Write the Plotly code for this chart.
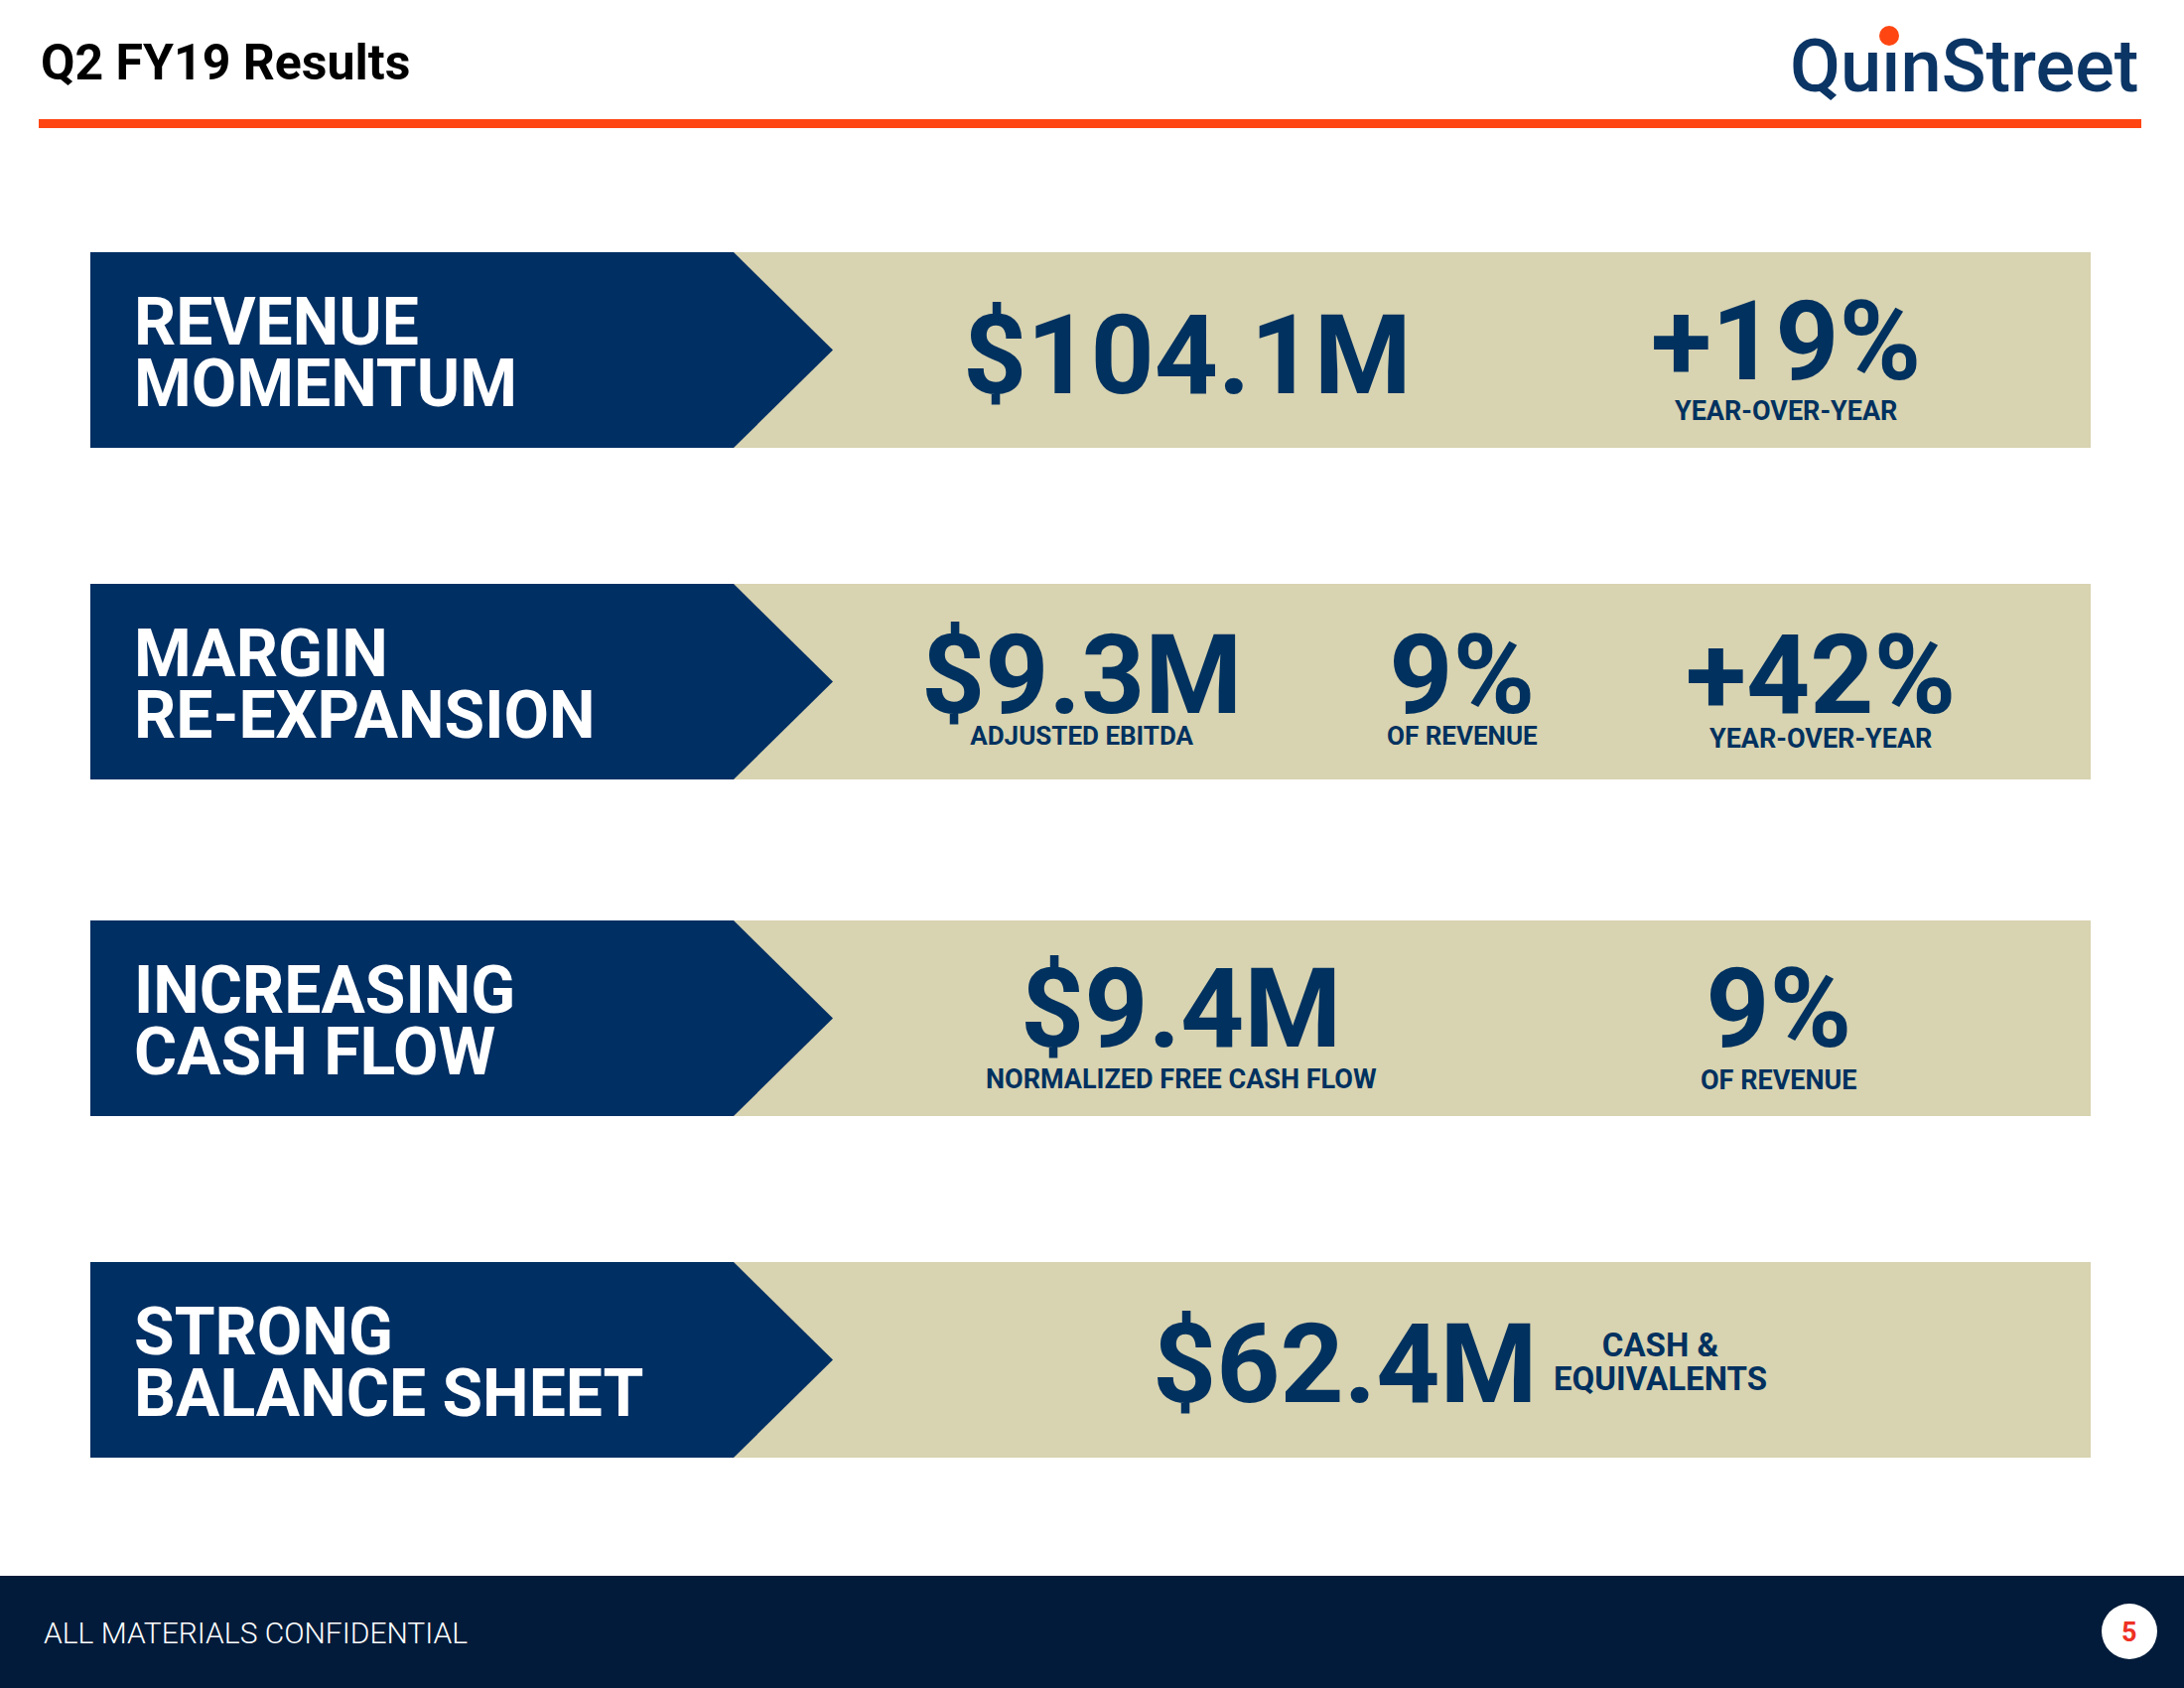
import plotly.graph_objects as go

# ---------------- data (text content of the slide) ----------------
slide_title = "Q2 FY19 Results"
logo_text = "Qu\u0131nStreet"
footer_text = "ALL MATERIALS CONFIDENTIAL"
page_number = "5"

row_titles = [
    ["REVENUE", "MOMENTUM"],
    ["MARGIN", "RE-EXPANSION"],
    ["INCREASING", "CASH FLOW"],
    ["STRONG", "BALANCE SHEET"],
]
revenue_values = ["$104.1M", "+19%"]
revenue_labels = ["", "YEAR-OVER-YEAR"]
margin_values = ["$9.3M", "9%", "+42%"]
margin_labels = ["ADJUSTED EBITDA", "OF REVENUE", "YEAR-OVER-YEAR"]
cashflow_values = ["$9.4M", "9%"]
cashflow_labels = ["NORMALIZED FREE CASH FLOW", "OF REVENUE"]
balance_values = ["$62.4M"]
balance_labels = ["CASH &", "EQUIVALENTS"]

# ---------------- layout / style ----------------
W, H = 2200, 1700
NAVY = "#002F63"
TEXT_NAVY = "#00315F"
BEIGE = "#D8D3B0"
ORANGE = "#FF4612"
FOOTER = "#021B3A"
FONT = "Roboto"
ASC, DESC = 0.927, 0.244   # Roboto ascent / descent (em)

row_tops = [254, 588, 927, 1271]
row_h = 197
block_left, block_right, tip_x, band_right = 91, 739, 839, 2106

VALUE_SIZE = 112
TITLE_SIZE = 66
TITLE_PITCH = 62

# per-row placement of value/label pairs: (x_center, value baseline, label baseline)
row_values = [revenue_values, margin_values, cashflow_values, balance_values]
row_labels = [revenue_labels, margin_labels, cashflow_labels, balance_labels]
value_pos = [
    [(1196, 396, None), (1799, 382, 423)],
    [(1089, 718, 750), (1473, 718, 750), (1834, 718, 753)],
    [(1190, 1053, 1095), (1792, 1053, 1096)],
    [(1355, 1412, None)],
]
label_sizes = [[0, 27], [26, 26, 27], [27, 27], [0]]


def stacked(lines, sizes, baseline1, pitch):
    """Build a multi-line annotation text with per-line sizes; return text, base size and middle y."""
    base = pitch / 1.3
    text = "<br>".join(f"<span style='font-size:{s}px'>{t}</span>" for t, s in zip(lines, sizes))
    n = len(lines)
    top = baseline1 - ASC * sizes[0]
    bottom = baseline1 + pitch * (n - 1) + DESC * max(sizes[-1], base)
    return text, base, (top + bottom) / 2


fig = go.Figure()
shapes = []
annotations = []

# header rule and title
shapes.append(dict(type="rect", x0=39, x1=2157, y0=120, y1=129,
                   fillcolor=ORANGE, line_width=0, layer="below"))
annotations.append(dict(x=39, y=63, text=slide_title, xanchor="left", yanchor="middle",
                        showarrow=False, font=dict(family=FONT, size=50, color="#000000", weight="bold")))
# logo
annotations.append(dict(x=1979, y=66, text=logo_text, xanchor="center", yanchor="middle",
                        showarrow=False, font=dict(family=FONT, size=74, color="#0B3565", weight=500)))
shapes.append(dict(type="circle", x0=1893, x1=1913, y0=26, y1=46,
                   fillcolor=ORANGE, line_width=0))

for i, top in enumerate(row_tops):
    bot = top + row_h
    mid = top + row_h / 2
    shapes.append(dict(type="rect", x0=block_right, x1=band_right, y0=top, y1=bot,
                       fillcolor=BEIGE, line_width=0, layer="below"))
    shapes.append(dict(type="path",
                       path=f"M {block_left},{top} L {block_right},{top} L {tip_x},{mid} L {block_right},{bot} L {block_left},{bot} Z",
                       fillcolor=NAVY, line_width=0, layer="below"))
    # block title (two lines, one text element)
    txt, base, ymid = stacked(row_titles[i], [TITLE_SIZE] * len(row_titles[i]), top + 93, TITLE_PITCH)
    annotations.append(dict(x=133, y=ymid, text=txt, xanchor="left", yanchor="middle", align="left",
                            showarrow=False,
                            font=dict(family=FONT, size=base, color="#FFFFFF", weight="bold")))
    # values with their captions
    for (xc, b1, b2), val, lab, ls in zip(value_pos[i], row_values[i], row_labels[i], label_sizes[i]):
        if lab and b2 is not None:
            txt, base, ymid = stacked([val, lab], [VALUE_SIZE, ls], b1, b2 - b1)
        else:
            base = VALUE_SIZE
            ymid = b1 - (ASC - DESC) / 2 * VALUE_SIZE
            txt = val
        annotations.append(dict(x=xc, y=ymid, text=txt, xanchor="center", yanchor="middle", align="center",
                                showarrow=False,
                                font=dict(family=FONT, size=base, color=TEXT_NAVY, weight="bold")))

# balance sheet side caption (two lines, one text element)
txt, base, ymid = stacked(balance_labels, [33, 33], 1366, 34)
annotations.append(dict(x=1672, y=ymid, text=txt, xanchor="center", yanchor="middle", align="center",
                        showarrow=False,
                        font=dict(family=FONT, size=base, color=TEXT_NAVY, weight="bold")))

# footer
shapes.append(dict(type="rect", x0=0, x1=W, y0=1587, y1=H, fillcolor=FOOTER, line_width=0, layer="below"))
annotations.append(dict(x=42, y=1644, text=footer_text, xanchor="left", yanchor="middle", showarrow=False,
                        font=dict(family=FONT, size=30, color="#FFFFFF", weight=300)))
shapes.append(dict(type="circle", x0=2117, x1=2173, y0=1615, y1=1671, fillcolor="#FFFFFF", line_width=0))
annotations.append(dict(x=2145, y=1644, text=page_number, xanchor="center", yanchor="middle", showarrow=False,
                        font=dict(family=FONT, size=27, color="#EE3124", weight="bold")))

fig.update_layout(
    width=W, height=H,
    margin=dict(l=0, r=0, t=0, b=0),
    paper_bgcolor="#FFFFFF", plot_bgcolor="#FFFFFF",
    xaxis=dict(range=[0, W], visible=False, fixedrange=True),
    yaxis=dict(range=[H, 0], visible=False, fixedrange=True),
    shapes=shapes, annotations=annotations, showlegend=False,
)

fig.write_html("out.html", config={"displayModeBar": False},
               post_script="document.body.style.margin='0';document.body.style.overflow='hidden';")
